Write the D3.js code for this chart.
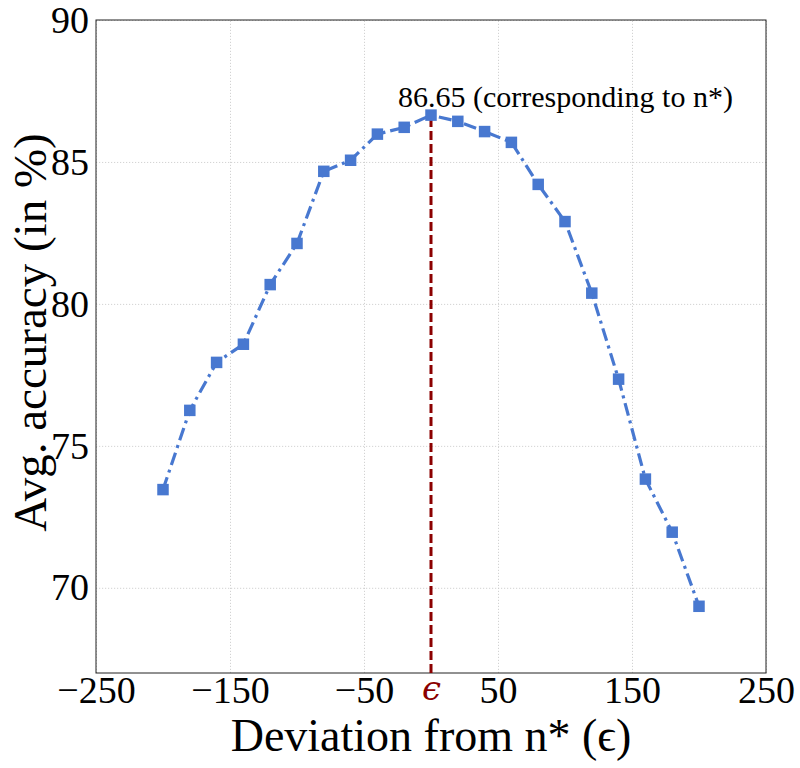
<!DOCTYPE html>
<html lang="en">
<head>
  <meta charset="UTF-8" />
  <title>Avg. accuracy vs deviation from n*</title>
  <style>
    body {
      margin: 0;
      background-color: #fff;
      font-family: "Liberation Serif", "Times New Roman", serif;
    }

    svg {
      display: block;
    }

    .grid line {
      stroke: #c8c8c8;
      stroke-width: 0.8px;
      stroke-dasharray: 1.2 1.8;
    }

    .tick text {
      font-family: "Liberation Serif", "Times New Roman", serif;
      font-size: 38px;
      fill: #000;
    }
  </style>
</head>
<body>
  <svg width="800" height="768"></svg>

  <script src="https://cdnjs.cloudflare.com/ajax/libs/d3/7.8.5/d3.min.js"></script>
  <script>
    // deviation from n* and average accuracy (%)
    const deviations = [-200, -180, -160, -140, -120, -100, -80, -60, -40, -20, 0,
                        20, 40, 60, 80, 100, 120, 140, 160, 180, 200];
    const accuracy = [73.46, 76.25, 77.94, 78.58, 80.68, 82.13, 84.67, 85.06, 85.98, 86.22, 86.65,
                      86.43, 86.07, 85.69, 84.21, 82.9, 80.38, 77.35, 73.83, 71.96, 69.35];
    const xTicks = [-250, -150, -50, 0, 50, 150, 250];
    const yTicks = [70, 75, 80, 85, 90];
    const peakLabel = "86.65 (corresponding to n*)";

    const width = 800;
    const height = 768;
    const margin = { top: 20, right: 34, bottom: 95, left: 96 };

    const svg = d3.select("svg");

    const x = d3.scaleLinear()
      .domain([-250, 250])
      .range([margin.left, width - margin.right]);

    const y = d3.scaleLinear()
      .domain([67, 90])
      .range([height - margin.bottom, margin.top]);

    const points = deviations.map((d, i) => ({ x: d, y: accuracy[i] }));
    const peak = points[accuracy.indexOf(d3.max(accuracy))];

    // grid
    svg.append("g")
      .attr("class", "grid")
      .attr("transform", `translate(0,${height - margin.bottom})`)
      .call(d3.axisBottom(x).tickValues(xTicks.filter(t => t !== 0))
        .tickSize(-(height - margin.top - margin.bottom)).tickFormat(""))
      .call(g => g.select(".domain").remove());

    svg.append("g")
      .attr("class", "grid")
      .attr("transform", `translate(${margin.left},0)`)
      .call(d3.axisLeft(y).tickValues(yTicks)
        .tickSize(-(width - margin.left - margin.right)).tickFormat(""))
      .call(g => g.select(".domain").remove());

    // axes (labels only, no tick marks)
    const fmt = d3.format("d");
    const xAxis = svg.append("g")
      .attr("transform", `translate(0,${height - margin.bottom})`)
      .call(d3.axisBottom(x).tickValues(xTicks).tickSize(0).tickPadding(3)
        .tickFormat(d => d === 0 ? "\u03F5" : fmt(d).replace("-", "\u2212")));
    xAxis.select(".domain").remove();
    xAxis.selectAll(".tick text")
      .filter(d => d === 0)
      .style("fill", "#8b0000")
      .style("font-family", "'DejaVu Serif', serif")
      .style("font-size", "34px")
      .style("font-style", "italic");

    const yAxis = svg.append("g")
      .attr("transform", `translate(${margin.left},0)`)
      .call(d3.axisLeft(y).tickValues(yTicks).tickSize(0).tickPadding(7));
    yAxis.select(".domain").remove();

    // frame
    svg.append("rect")
      .attr("x", margin.left)
      .attr("y", margin.top)
      .attr("width", width - margin.left - margin.right)
      .attr("height", height - margin.top - margin.bottom)
      .attr("fill", "none")
      .attr("stroke", "#222")
      .attr("stroke-width", 1);

    // vertical marker at n*
    svg.append("line")
      .attr("x1", x(peak.x))
      .attr("x2", x(peak.x))
      .attr("y1", y(67))
      .attr("y2", y(peak.y))
      .attr("stroke", "#8b0000")
      .attr("stroke-width", 3)
      .attr("stroke-dasharray", "9 4");

    // accuracy curve
    const line = d3.line()
      .x(d => x(d.x))
      .y(d => y(d.y));

    svg.append("path")
      .datum(points)
      .attr("fill", "none")
      .attr("stroke", "#4878d0")
      .attr("stroke-width", 3.2)
      .attr("stroke-dasharray", "13 5 3 5")
      .attr("d", line);

    const s = 11.5;
    svg.append("g")
      .selectAll("rect")
      .data(points)
      .join("rect")
      .attr("x", d => x(d.x) - s / 2)
      .attr("y", d => y(d.y) - s / 2)
      .attr("width", s)
      .attr("height", s)
      .attr("fill", "#4878d0");

    // annotation
    svg.append("text")
      .attr("x", x(peak.x) - 33)
      .attr("y", y(peak.y) - 8)
      .attr("font-size", 30)
      .text(peakLabel);

    // axis titles
    svg.append("text")
      .attr("x", (margin.left + width - margin.right) / 2)
      .attr("y", 751)
      .attr("text-anchor", "middle")
      .attr("font-size", 46)
      .text("Deviation from n* (\u03F5)");

    svg.append("text")
      .attr("transform", `translate(46,${(margin.top + height - margin.bottom) / 2 - 14}) rotate(-90)`)
      .attr("text-anchor", "middle")
      .attr("font-size", 47)
      .text("Avg. accuracy (in %)");
  </script>
</body>
</html>
